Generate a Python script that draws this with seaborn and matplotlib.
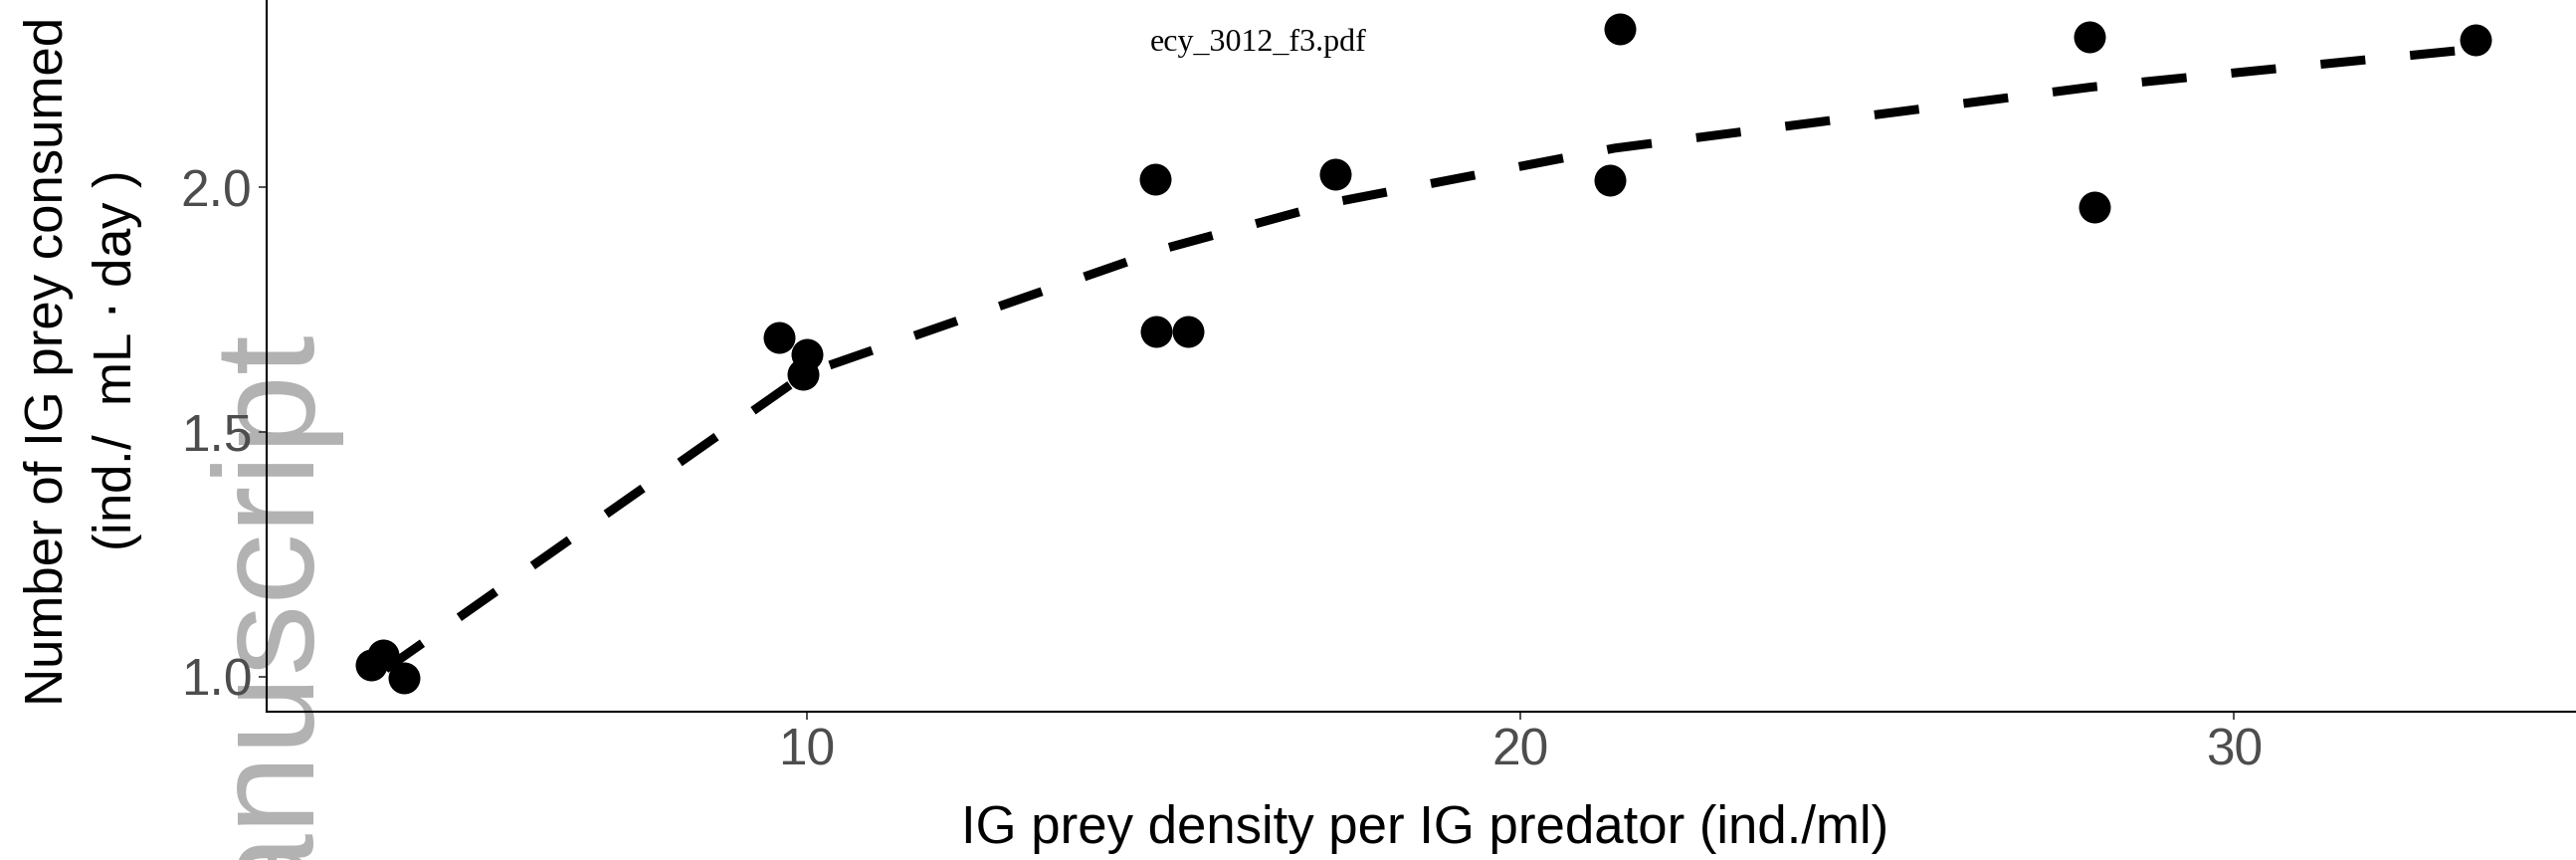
import matplotlib
matplotlib.use('Agg')
import matplotlib.pyplot as plt
import seaborn as sns

# Dados
prey_density = [3.90, 4.06, 4.36, 9.61, 10.0, 9.95, 14.88, 14.90, 15.34,
                17.41, 21.25, 21.39, 27.97, 28.04, 33.38]
prey_consumed = [1.024, 1.044, 0.997, 1.693, 1.659, 1.618, 2.017, 1.706, 1.706,
                 2.027, 2.014, 2.324, 2.307, 1.959, 2.301]

# Curva ajustada (valores previstos)
fit_density = [4.10, 10.0, 15.07, 17.41, 21.32, 28.0, 33.38]
fit_consumed = [1.015, 1.62, 1.877, 1.97, 2.08, 2.205, 2.283]

x_ticks = [10, 20, 30]
y_ticks = [1.0, 1.5, 2.0]

sns.set_style('white')
plt.rcParams['font.family'] = ['Liberation Sans', 'DejaVu Sans']

fig = plt.figure(figsize=(25.89, 8.64), dpi=100)
ax = fig.add_axes([0.1037, 0.172, 1 - 0.1037, 1 - 0.172])
ax.patch.set_alpha(0)

# Marca d'água (cortada na borda, como no original)
fig.text(304 / 2589, 1 - 324 / 864, 'Manuscript', rotation=90, rotation_mode='anchor',
         ha='right', va='baseline', fontsize=103, color='#b2b2b2', zorder=-5,
         family=['Liberation Sans Narrow', 'Liberation Sans'])

sns.lineplot(x=fit_density, y=fit_consumed, ax=ax, color='black', lw=6.5,
             linestyle=(0, (5, 5)), sort=False, estimator=None, zorder=2)
ax.lines[-1].set_dash_capstyle('butt')
sns.scatterplot(x=prey_density, y=prey_consumed, ax=ax, s=530, color='black',
                linewidth=0, zorder=3)

ax.set_xlim(2.44, 34.79)
ax.set_ylim(0.927, 2.383)
ax.set_xticks(x_ticks)
ax.set_xticklabels([str(t) for t in x_ticks])
ax.set_yticks(y_ticks)
ax.set_yticklabels([f'{t:.1f}' for t in y_ticks])

for side in ['top', 'right']:
    ax.spines[side].set_visible(False)
for side in ['left', 'bottom']:
    ax.spines[side].set_color('black')
    ax.spines[side].set_linewidth(1.5)

ax.tick_params(axis='both', which='major', length=6, width=1.2, color='#333333',
               labelcolor='#4d4d4d', labelsize=37, pad=5, direction='out',
               bottom=True, left=True)

ax.set_xlabel('')
ax.set_ylabel('')
fig.text(0.553, 0.036, 'IG prey density per IG predator (ind./ml)', ha='center',
         va='center', fontsize=38, color='black')
fig.text(0.0325, 0.58, 'Number of IG prey consumed\n(ind./  mL $\\cdot$ day )',
         rotation=90, ha='center', va='center', multialignment='center',
         fontsize=38, color='black', linespacing=1.42)

fig.text(0.4885, 0.95, 'ecy_3012_f3.pdf', ha='center', va='center', fontsize=23,
         family=['Liberation Serif', 'DejaVu Serif'], color='black')

fig.savefig('out.png', dpi=100)
